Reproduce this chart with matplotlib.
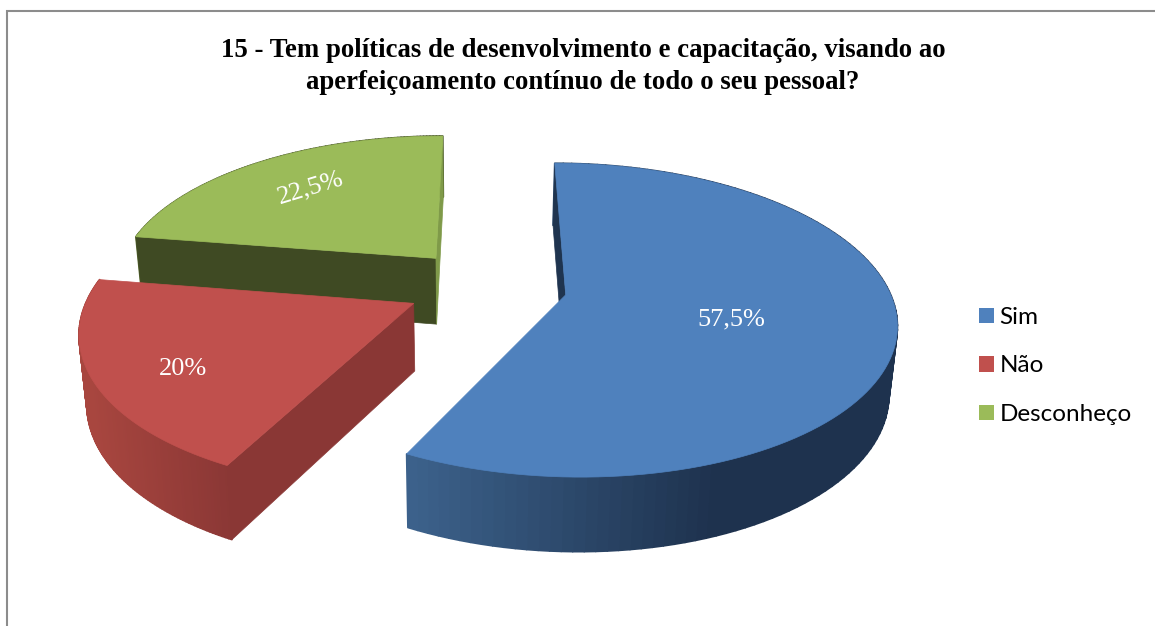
#dependencies
import numpy as np
import matplotlib
matplotlib.use("Agg")
import matplotlib.pyplot as plt
from matplotlib.collections import PolyCollection
from matplotlib.colors import to_rgb
from matplotlib.patches import Patch, Polygon

# data
categories = ["Sim", "Não", "Desconheço"]
percents = [57.5, 20, 22.5]
value_labels = ["57,5%", "20%", "22,5%"]
title_lines = "15 - Tem políticas de desenvolvimento e capacitação, visando ao\naperfeiçoamento contínuo de todo o seu pessoal?"

# colours per slice
top_colors = ["#4F81BD", "#C0504D", "#9BBB59"]
face_colors = ["#1F344F", "#8A3735", "#3F4A23"]
end_face_colors = ["#1F344F", "#8A3735", "#7F9A49"]
rim_left = ["#3D638D", "#A8463F", "#5F7236"]
rim_right = ["#1E324E", "#8A3735", "#3F4A23"]
rim_span = [(407, 720), (90, 232), (133, 440)]

# pie layout in image pixels, y goes down
cx, cy = 486.7, 286
rx, ry = 322, 150
persp = 0.16
explode = 0.25
x_shrink, x_shrink_at = 0.98, 470
depth_back, depth_growth = 62, 0.04


def project(wx, wy):
    w = 1 + persp * wy
    return cx + rx * wx / w, cy - ry * wy / w


def lower(x, y):
    # same point on the underside of the disc
    return x_shrink_at + x_shrink * (x - x_shrink_at), y + depth_back + depth_growth * (y - 163)


def turn(pts):
    # direction the quad winds in on screen
    a, o, b = np.array(pts[0]), np.array(pts[1]), np.array(pts[2])
    u, v = o - a, b - o
    return u[0] * v[1] - u[1] * v[0]


fig = plt.figure(figsize=(11.55, 6.26), dpi=100)
ax = fig.add_axes([0, 0, 1, 1])
ax.set_xlim(0, 1155)
ax.set_ylim(626, 0)
ax.axis("off")

# chart frame
ax.plot([7, 7, 1155], [626, 10.5, 10.5], color="#8C8C8C", lw=1.5, solid_capstyle="butt", solid_joinstyle="miter")

fractions = np.array(percents) / sum(percents)
edges = np.concatenate([[0], np.cumsum(fractions)]) * 2 * np.pi

# back slice first, so the red one can sit over the dark green face
for i in [2, 1, 0]:
    start, end = edges[i], edges[i + 1]
    mid = (start + end) / 2
    ox, oy = explode * np.sin(mid), explode * np.cos(mid)
    t = np.linspace(start, end, 120)
    x_top, y_top = project(ox + np.sin(t), oy + np.cos(t))
    x_low, y_low = lower(x_top, y_top)
    ax_x, ax_y = project(ox, oy)
    bx, by = lower(ax_x, ax_y)

    # outer wall, shaded from left to right
    quads, shades = [], []
    lo, hi = rim_span[i]
    for j in range(len(t) - 1):
        quads.append([(x_top[j], y_top[j]), (x_top[j + 1], y_top[j + 1]),
                      (x_low[j + 1], y_low[j + 1]), (x_low[j], y_low[j])])
        f = np.clip((x_top[j] - lo) / (hi - lo), 0, 1)
        shades.append((1 - f) * np.array(to_rgb(rim_left[i])) + f * np.array(to_rgb(rim_right[i])))
    ax.add_collection(PolyCollection(quads, facecolors=shades, edgecolors=shades, linewidths=1.2))

    # flat cut faces, only the ones turned to the viewer
    start_quad = [(ax_x, ax_y), (x_top[0], y_top[0]), (x_low[0], y_low[0]), (bx, by)]
    end_quad = [(ax_x, ax_y), (x_top[-1], y_top[-1]), (x_low[-1], y_low[-1]), (bx, by)]
    if turn(start_quad) < 0:
        ax.add_patch(Polygon(start_quad, closed=True, fc=face_colors[i], ec=face_colors[i], lw=0.5))
    if turn(end_quad) > 0:
        ax.add_patch(Polygon(end_quad, closed=True, fc=end_face_colors[i], ec=end_face_colors[i], lw=0.5))

    # top
    outline = [(ax_x, ax_y)] + list(zip(x_top, y_top))
    ax.add_patch(Polygon(outline, closed=True, fc=top_colors[i], ec=top_colors[i], lw=0.5))

# value labels
label_pos = [(731, 319), (183, 369), (311, 188)]
label_rot = [0, 0, 17]
for i in range(3):
    ax.text(label_pos[i][0], label_pos[i][1], value_labels[i], color="white", family="Liberation Serif",
            fontsize=19, ha="center", va="center", rotation=label_rot[i], rotation_mode="anchor")

ax.text(583, 66.5, title_lines, family="Liberation Serif", fontweight="bold", fontsize=19.3, color="black",
        ha="center", va="center", linespacing=1.42)

handles = [Patch(fc=c, ec="none") for c in top_colors]
ax.legend(handles, categories, loc="upper left", bbox_to_anchor=(979, 307), bbox_transform=ax.transData,
          frameon=False, handlelength=0.61, handleheight=0.61, handletextpad=0.24,
          labelspacing=1.13, borderpad=0, borderaxespad=0, prop={"family": "Lato", "size": 17.5})

fig.savefig("out.png", dpi=100)
